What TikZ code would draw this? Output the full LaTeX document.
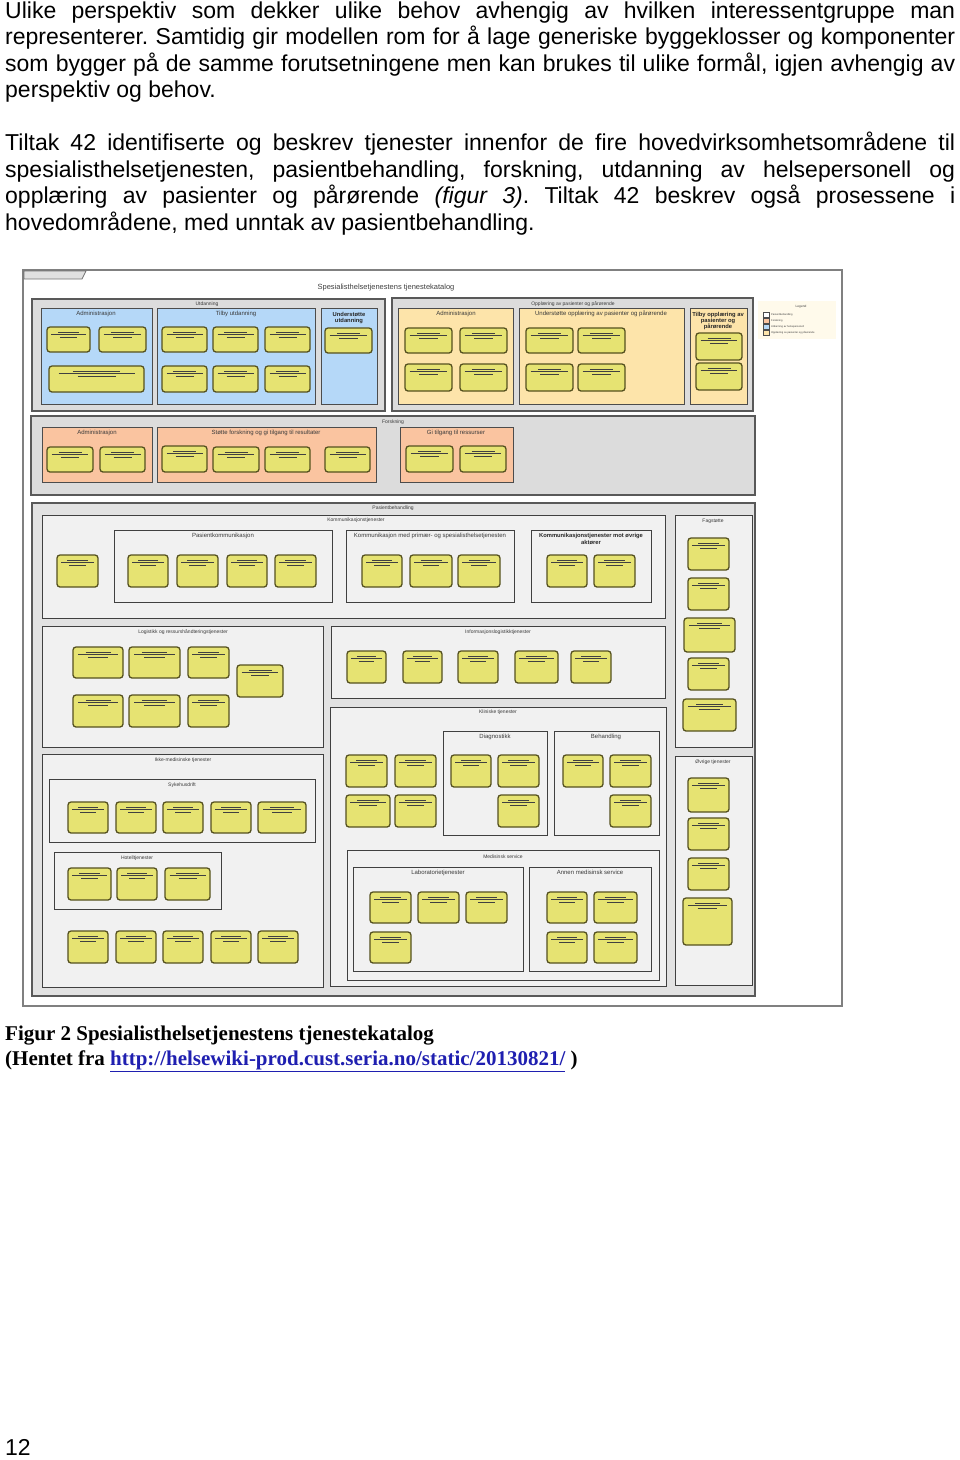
\documentclass[tikz,border=0pt]{standalone}
\usepackage{fontspec}
\setmainfont{Liberation Sans}
\newfontfamily\timesf{Liberation Serif}
\frenchspacing
\definecolor{ygfill}{HTML}{E6E372}
\definecolor{ygdraw}{HTML}{55511F}
\definecolor{grayg}{HTML}{DCDCDC}
\definecolor{pbgray}{HTML}{E2E2E2}
\definecolor{lightg}{HTML}{F1F1F1}
\definecolor{bluebx}{HTML}{B5D8F8}
\definecolor{orabx}{HTML}{FDE4AA}
\definecolor{salbx}{HTML}{FAC4A0}
\definecolor{legbg}{HTML}{FFFAEB}
\definecolor{linkblue}{HTML}{1F1FB0}
\definecolor{ttl}{HTML}{3A3A3A}
\tikzset{
  bodytxt/.style={anchor=base west,inner sep=0,font=\fontsize{23}{26.5}\selectfont},
  captxt/.style={anchor=base west,inner sep=0,font=\timesf\bfseries\fontsize{21}{25}\selectfont},
  outerfr/.style={draw=black!50,line width=1.3pt,fill=white},
  grpbox/.style={draw=black!65,line width=1.1pt,fill=grayg},
  pbbox/.style={draw=black!65,line width=1.1pt,fill=pbgray},
  lgbox/.style={draw=black!75,line width=0.9pt,fill=lightg},
  bluebox/.style={draw=black!70,line width=0.9pt,fill=bluebx},
  orabox/.style={draw=black!70,line width=0.9pt,fill=orabx},
  salbox/.style={draw=black!70,line width=0.9pt,fill=salbx},
  ybox/.style={draw=ygdraw,line width=1.3pt,fill=ygfill,rounded corners=3pt},
  greek/.style={draw=black!75,line width=1pt},
  gtitle/.style={inner sep=0,text=ttl,font=\fontsize{5}{6}\selectfont},
  stitle/.style={inner sep=0,text=ttl,font=\fontsize{6}{6.5}\selectfont,align=center},
  btitle/.style={inner sep=0,text=black!85,font=\bfseries\fontsize{5.8}{6.4}\selectfont,align=center},
  legtxt/.style={anchor=west,inner sep=0,text=black!75,font=\fontsize{2.6}{3}\selectfont},
}
\newcommand\ybx[4]{%
  \draw[ybox] (#1,#2) rectangle (#3,#4);
  \pgfmathsetmacro\xa{#1+(#3-#1)*0.25}\pgfmathsetmacro\xb{#3-(#3-#1)*0.25}%
  \pgfmathsetmacro\xc{#1+(#3-#1)*0.1}\pgfmathsetmacro\xd{#3-(#3-#1)*0.1}%
  \pgfmathsetmacro\xe{#1+(#3-#1)*0.3}\pgfmathsetmacro\xf{#3-(#3-#1)*0.3}%
  \draw[greek] (\xa,#2+5) -- (\xb,#2+5);
  \draw[greek] (\xc,#2+7.5) -- (\xd,#2+7.5);
  \draw[greek] (\xe,#2+10) -- (\xf,#2+10);
}
\begin{document}
\begin{tikzpicture}[x=1pt,y=-1pt]
\useasboundingbox[fill=white] (0,0) rectangle (960,1460);
% ---------------- body text
\node[bodytxt] (p1a) at (5,18) {\makebox[950pt][s]{Ulike perspektiv som dekker ulike behov avhengig av hvilken interessentgruppe man}};
\node[bodytxt] (p1b) at (5,44.5) {\makebox[950pt][s]{representerer. Samtidig gir modellen rom for å lage generiske byggeklosser og komponenter}};
\node[bodytxt] (p1c) at (5,71) {\makebox[950pt][s]{som bygger på de samme forutsetningene men kan brukes til ulike formål, igjen avhengig av}};
\node[bodytxt] (p1d) at (5,97.5) {perspektiv og behov.};
\node[bodytxt] (p2a) at (5,150.5) {\makebox[950pt][s]{Tiltak 42 identifiserte og beskrev tjenester innenfor de fire hovedvirksomhetsområdene til}};
\node[bodytxt] (p2b) at (5,177) {\makebox[950pt][s]{spesialisthelsetjenesten, pasientbehandling, forskning, utdanning av helsepersonell og}};
\node[bodytxt] (p2c) at (5,203.5) {\makebox[950pt][s]{opplæring av pasienter og pårørende \textit{(figur 3)}. Tiltak 42 beskrev også prosessene i}};
\node[bodytxt] (p2d) at (5,230) {hovedområdene, med unntak av pasientbehandling.};
% ---------------- diagram frame
\draw[outerfr] (23,270) rectangle (842,1006);
\draw[draw=black!55,line width=0.8pt,fill=black!12] (24,271) -- (24,279) -- (82,279) -- (86,271) -- cycle;
\node[inner sep=0,text=black!75,font=\fontsize{7.5}{8}\selectfont] (cat) at (386,288) {Spesialisthelsetjenestens tjenestekatalog};
% ---------------- Utdanning
\draw[grpbox] (32,299) rectangle (385,411);
\node[gtitle] (utd) at (207,304) {Utdanning};
\draw[bluebox] (41,308) rectangle (152,404);
\node[stitle] (utdadm) at (96,314) {Administrasjon};
\draw[bluebox] (157,308) rectangle (315,404);
\node[stitle] (utdtilby) at (236,314) {Tilby utdanning};
\draw[bluebox] (321,308) rectangle (377,404);
\node[btitle] (utdund) at (349,318) {Understøtte\\utdanning};
\ybx{47}{327}{90}{352}\ybx{99}{327}{146}{352}\ybx{49}{366}{144}{392}
\ybx{162}{327}{207}{352}\ybx{213}{327}{258}{352}\ybx{265}{327}{310}{352}
\ybx{162}{366}{207}{392}\ybx{213}{366}{258}{392}\ybx{265}{366}{310}{392}
\ybx{325}{328}{372}{353}
% ---------------- Opplaering
\draw[grpbox] (392,298) rectangle (753,411);
\node[gtitle] (opp) at (573,304) {Opplæring av pasienter og pårørende};
\draw[orabox] (398,308) rectangle (513,404);
\node[stitle] (oppadm) at (456,314) {Administrasjon};
\draw[orabox] (519,308) rectangle (684,404);
\node[stitle] (oppund) at (601,314) {Understøtte opplæring av pasienter og pårørende};
\draw[orabox] (690,308) rectangle (747,404);
\node[btitle] (opptilby) at (718,321) {Tilby opplæring av\\pasienter og\\pårørende};
\ybx{405}{328}{452}{353}\ybx{460}{328}{507}{353}\ybx{405}{364}{452}{391}\ybx{460}{364}{507}{391}
\ybx{526}{328}{573}{353}\ybx{578}{328}{625}{353}\ybx{526}{364}{573}{391}\ybx{578}{364}{625}{391}
\ybx{696}{333}{742}{360}\ybx{696}{363}{742}{390}
% ---------------- Legend
\fill[legbg] (758,301) rectangle (836,339);
\node[inner sep=0,text=black!75,font=\fontsize{3.2}{3.5}\selectfont] (leg) at (801,307) {Legend};
\draw[black!70,line width=0.5pt,fill=white] (763,312) rectangle (769,317);
\draw[black!70,line width=0.5pt,fill=salbx] (763,318) rectangle (769,323);
\draw[black!70,line width=0.5pt,fill=bluebx] (763,324) rectangle (769,329);
\draw[black!70,line width=0.5pt,fill=orabx] (763,330) rectangle (769,335);
\node[legtxt] (lg1) at (771,314.5) {Pasientbehandling};
\node[legtxt] (lg2) at (771,320.5) {Forskning};
\node[legtxt] (lg3) at (771,326.5) {Utdanning av helsepersonell};
\node[legtxt] (lg4) at (771,332.5) {Opplæring av pasienter og pårørende};
% ---------------- Forskning
\draw[grpbox] (31,416) rectangle (755,495);
\node[gtitle] (fors) at (393,422) {Forskning};
\draw[salbox] (42,427) rectangle (152,482);
\node[stitle] (forsadm) at (97,432.5) {Administrasjon};
\draw[salbox] (157,427) rectangle (376,482);
\node[stitle] (forsstot) at (266,432.5) {Støtte forskning og gi tilgang til resultater};
\draw[salbox] (400,427) rectangle (513,482);
\node[stitle] (forsgi) at (456,432.5) {Gi tilgang til ressurser};
\ybx{47}{447}{93}{472}\ybx{100}{447}{145}{472}
\ybx{162}{446}{207}{472}\ybx{213}{447}{259}{472}\ybx{265}{447}{310}{472}\ybx{325}{447}{370}{472}
\ybx{406}{446}{453}{472}\ybx{460}{446}{506}{472}
% ---------------- Pasientbehandling
\draw[pbbox] (32,503) rectangle (755,996);
\node[gtitle] (pb) at (393,508) {Pasientbehandling};
% Kommunikasjonstjenester
\draw[lgbox] (42,515) rectangle (665,618);
\node[gtitle] (komm) at (356,520) {Kommunikasjonstjenester};
\ybx{57}{555}{98}{587}
\draw[lgbox] (114,530) rectangle (332,602);
\node[stitle] (pkom) at (223,536) {Pasientkommunikasjon};
\ybx{128}{555}{168}{587}\ybx{177}{555}{218}{587}\ybx{227}{555}{267}{587}\ybx{275}{555}{316}{587}
\draw[lgbox] (346,530) rectangle (514,602);
\node[stitle] (kprim) at (430,536) {Kommunikasjon med primær- og spesialisthelsetjenesten};
\ybx{362}{555}{402}{587}\ybx{410}{555}{452}{587}\ybx{458}{555}{500}{587}
\draw[lgbox] (531,530) rectangle (651,602);
\node[btitle] (kovr) at (591,539) {Kommunikasjonstjenester mot øvrige\\aktører};
\ybx{547}{555}{587}{587}\ybx{594}{555}{635}{587}
% Logistikk
\draw[lgbox] (42,626) rectangle (323,747);
\node[gtitle] (logi) at (183,632) {Logistikk og ressurshåndteringstjenester};
\ybx{73}{647}{123}{678}\ybx{129}{647}{180}{678}\ybx{188}{647}{229}{678}\ybx{237}{665}{283}{697}
\ybx{73}{695}{123}{727}\ybx{129}{695}{180}{727}\ybx{188}{695}{229}{727}
% Informasjonslogistikk
\draw[lgbox] (331,626) rectangle (665,698);
\node[gtitle] (infl) at (498,632) {Informasjonslogistikktjenester};
\ybx{347}{651}{386}{683}\ybx{403}{651}{442}{683}\ybx{458}{651}{498}{683}\ybx{515}{651}{558}{683}\ybx{571}{651}{611}{683}
% Kliniske tjenester
\draw[lgbox] (330,707) rectangle (666,986);
\node[gtitle] (klin) at (498,712) {Kliniske tjenester};
\ybx{346}{755}{387}{787}\ybx{395}{755}{436}{787}\ybx{346}{795}{390}{827}\ybx{395}{795}{436}{827}
\draw[lgbox] (443,731) rectangle (547,835);
\node[stitle] (diag) at (495,736.5) {Diagnostikk};
\ybx{451}{755}{491}{787}\ybx{498}{755}{539}{787}\ybx{498}{795}{539}{827}
\draw[lgbox] (554,731) rectangle (659,835);
\node[stitle] (beh) at (606,736.5) {Behandling};
\ybx{563}{755}{603}{787}\ybx{610}{755}{651}{787}\ybx{610}{795}{651}{827}
\draw[lgbox] (347,850) rectangle (659,980);
\node[gtitle] (medserv) at (503,857) {Medisinsk service};
\draw[lgbox] (353,867) rectangle (523,971);
\node[stitle] (lab) at (438,872.5) {Laboratorietjenester};
\ybx{370}{892}{411}{923}\ybx{418}{892}{459}{923}\ybx{466}{892}{507}{923}\ybx{370}{932}{411}{963}
\draw[lgbox] (529,867) rectangle (651,971);
\node[stitle] (annen) at (590,872.5) {Annen medisinsk service};
\ybx{547}{892}{587}{923}\ybx{594}{892}{637}{923}\ybx{547}{932}{587}{963}\ybx{594}{932}{637}{963}
% Fagstotte
\draw[lgbox] (675,515) rectangle (752,747);
\node[gtitle] (fag) at (713,521) {Fagstøtte};
\ybx{688}{538}{729}{570}\ybx{688}{578}{729}{610}\ybx{684}{618}{735}{652}\ybx{688}{658}{729}{690}\ybx{683}{699}{736}{731}
% Ovrige tjenester
\draw[lgbox] (675,756) rectangle (752,985);
\node[gtitle] (ovr) at (713,762) {Øvrige tjenester};
\ybx{688}{778}{729}{812}\ybx{688}{818}{729}{850}\ybx{688}{858}{729}{890}\ybx{683}{898}{732}{945}
% Ikke-medisinske tjenester
\draw[lgbox] (42,754) rectangle (323,987);
\node[gtitle] (ikke) at (183,760) {Ikke-medisinske tjenester};
\draw[lgbox] (49,779) rectangle (315,842);
\node[gtitle] (syk) at (182,785) {Sykehusdrift};
\ybx{68}{802}{108}{833}\ybx{116}{802}{156}{833}\ybx{163}{802}{203}{833}\ybx{211}{802}{251}{833}\ybx{258}{802}{306}{833}
\draw[lgbox] (54,852) rectangle (221,909);
\node[gtitle] (hot) at (137,858) {Hotelltjenester};
\ybx{68}{868}{111}{900}\ybx{117}{868}{157}{900}\ybx{165}{868}{210}{900}
\ybx{68}{931}{108}{963}\ybx{116}{931}{156}{963}\ybx{163}{931}{203}{963}\ybx{211}{931}{251}{963}\ybx{258}{931}{298}{963}
% ---------------- caption
\node[captxt] (cap1) at (5,1040) {Figur 2 Spesialisthelsetjenestens tjenestekatalog};
\node[captxt] (cap2) at (5,1065) {(Hentet fra \textcolor{linkblue}{\underline{http://helsewiki-prod.cust.seria.no/static/20130821/}} )};
% ---------------- page number
\node[bodytxt] (pnum) at (5,1455) {12};
\end{tikzpicture}
\end{document}
